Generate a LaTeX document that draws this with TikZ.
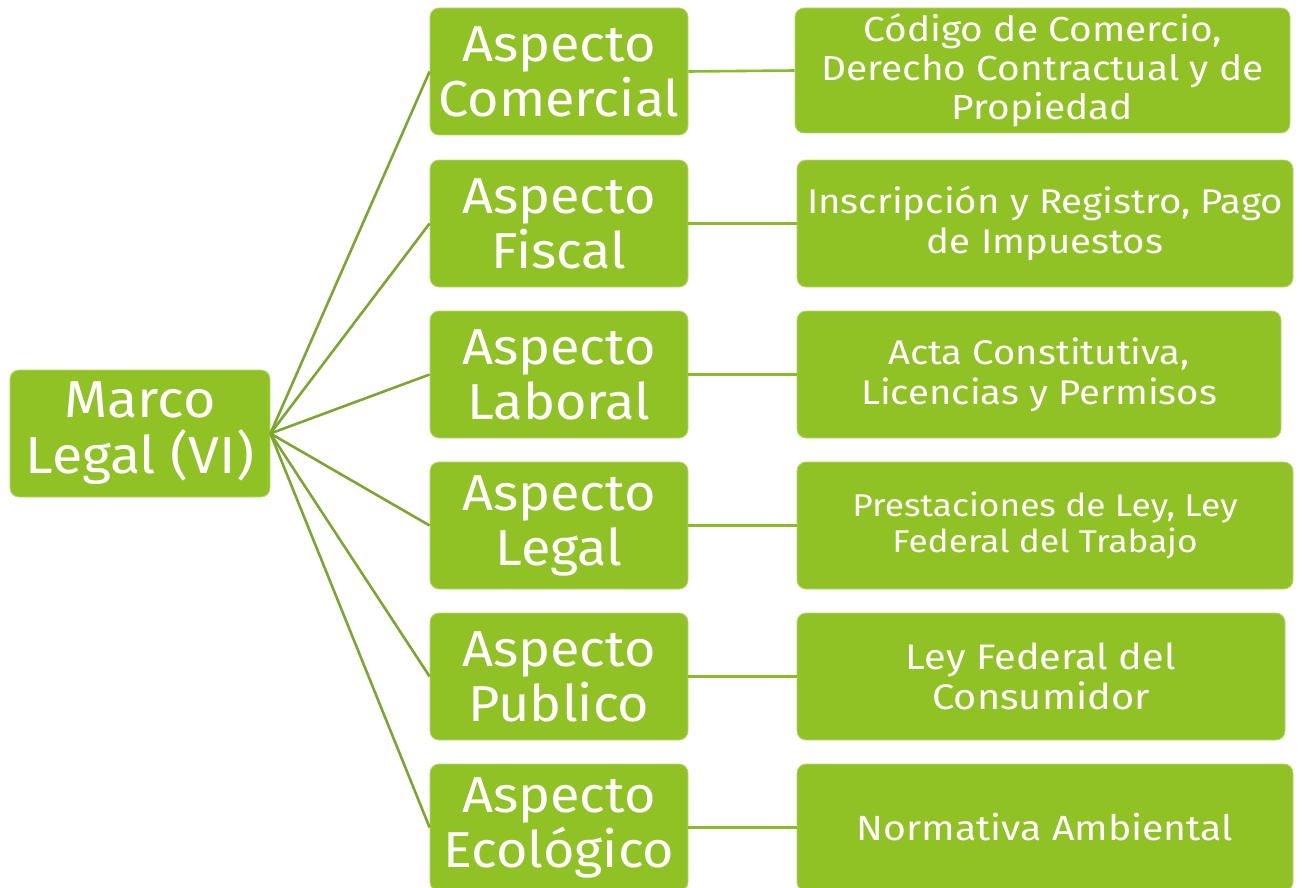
\documentclass[tikz,border=0pt]{standalone}
\usepackage{fontspec}
\setmainfont{Fira Sans}
\newfontfamily\bigwide[FakeStretch=1.07]{Fira Sans}
\newfontfamily\smallwide[FakeStretch=1.12]{Fira Sans}
\definecolor{boxgreen}{HTML}{90C226}
\definecolor{boxedge}{HTML}{B5D86E}
\definecolor{linkdiag}{HTML}{7EA532}
\definecolor{linkhor}{HTML}{8BBB2C}
\begin{document}
\begin{tikzpicture}[x=1pt,y=-1pt,
  gbox/.style={rectangle, rounded corners=9pt, fill=boxgreen, draw=boxedge, line width=0.8pt,
     text=white, align=center, inner sep=0pt},
  midbox/.style={gbox, minimum width=258pt, minimum height=127pt,
     font=\bigwide\fontsize{50.5}{55}\selectfont},
  rightbox/.style={gbox, minimum height=127pt},
  diag/.style={draw=linkdiag, line width=2.6pt},
  hor/.style={draw=linkhor, line width=2.6pt}]
\useasboundingbox (0,0) rectangle (1303,888);
\clip (0,0) rectangle (1303,888);
% root
\node[gbox, minimum width=260pt, minimum height=127pt, font=\bigwide\fontsize{52}{56}\selectfont]
  (root) at (140,433.5) {Marco\\Legal (VI)};
% middle column
\node[midbox] (m1) at (559,71.5)  {Aspecto\\Comercial};
\node[midbox] (m2) at (559,223.5) {Aspecto\\Fiscal};
\node[midbox] (m3) at (559,374.5) {Aspecto\\Laboral};
\node[midbox] (m4) at (559,525.5) {Aspecto\\Legal};
\node[midbox] (m5) at (559,676.5) {Aspecto\\Publico};
\node[midbox] (m6) at (559,827.5) {Aspecto\\Ecológico};
% right column
\node[rightbox, minimum width=495pt, minimum height=125pt, font=\smallwide\fontsize{34.7}{39}\selectfont]
  (r1) at (1042.5,70.5) {Código de Comercio,\\Derecho Contractual y de\\Propiedad};
\node[rightbox, minimum width=496pt, font=\smallwide\fontsize{34.3}{40}\selectfont]
  (r2) at (1045,223.5) {Inscripción y Registro, Pago\\de Impuestos};
\node[rightbox, minimum width=484pt, font=\smallwide\fontsize{34.2}{40}\selectfont]
  (r3) at (1039,374.5) {Acta Constitutiva,\\Licencias y Permisos};
\node[rightbox, minimum width=496pt, font=\smallwide\fontsize{31.5}{36}\selectfont]
  (r4) at (1045,525.5) {Prestaciones de Ley, Ley\\Federal del Trabajo};
\node[rightbox, minimum width=488pt, font=\smallwide\fontsize{35.5}{40}\selectfont]
  (r5) at (1041,676.5) {Ley Federal del\\Consumidor};
\node[rightbox, minimum width=496pt, font=\smallwide\fontsize{35}{40}\selectfont]
  (r6) at (1045,827.5) {Normativa Ambiental};
% connectors
\foreach \i in {1,...,6} {
  \draw[diag] (root.east) -- (m\i.west);
  \draw[hor] (m\i.east) -- (r\i.west);
}
\end{tikzpicture}
\end{document}
